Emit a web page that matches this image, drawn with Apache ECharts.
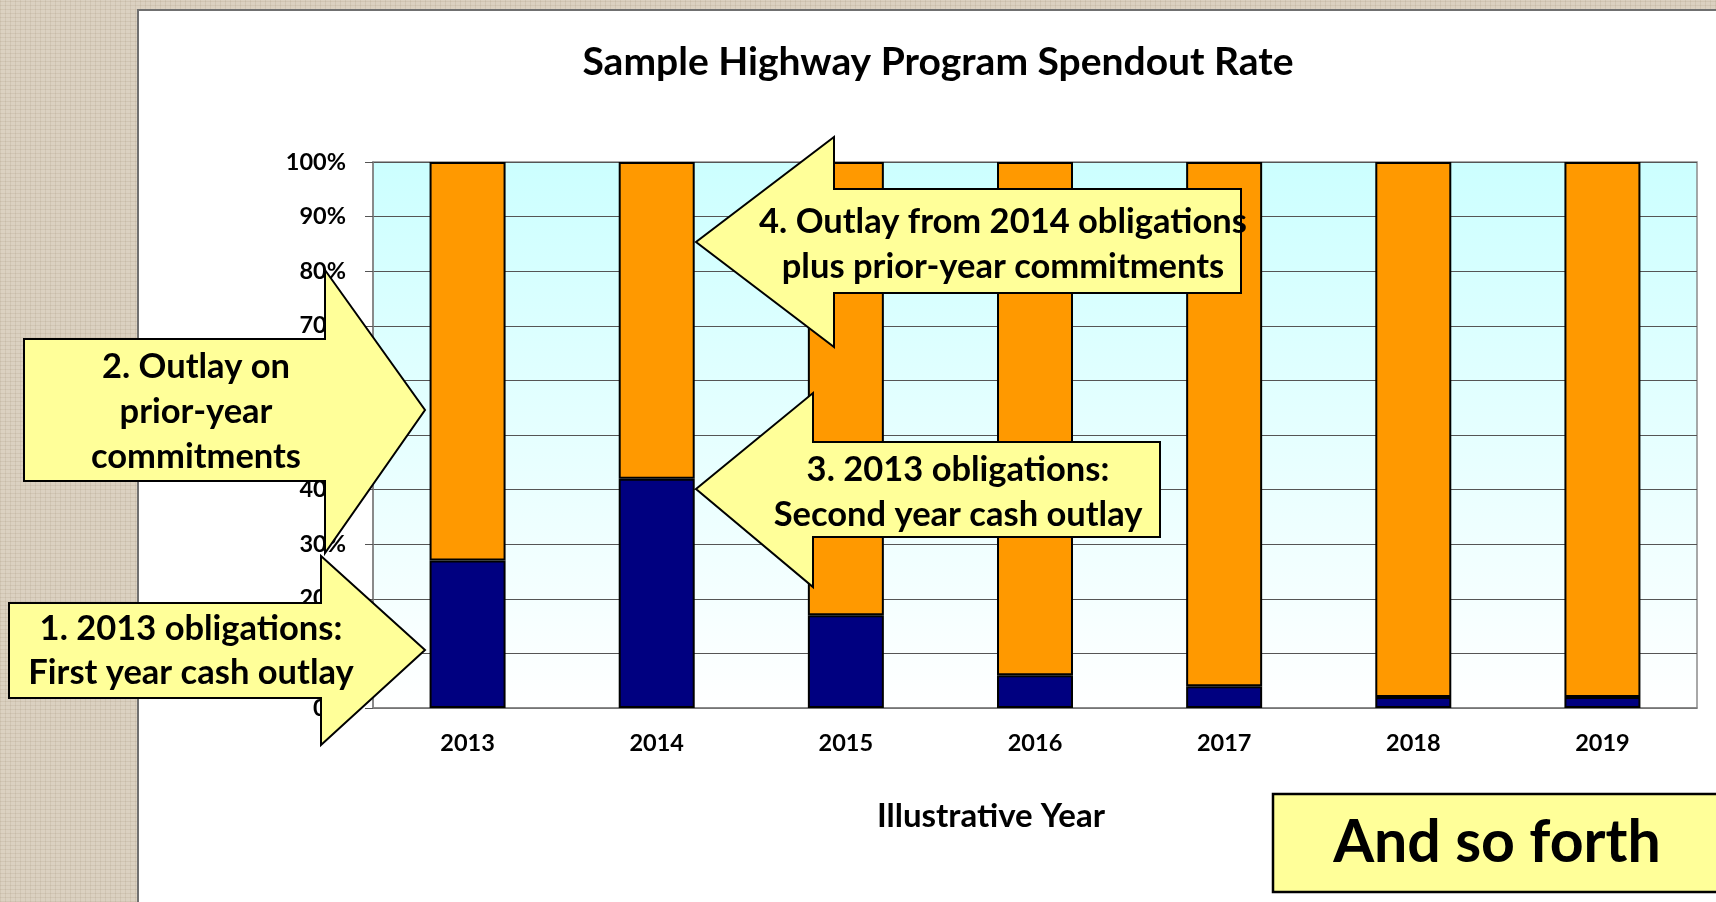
<!DOCTYPE html>
<html>
<head>
<meta charset="utf-8">
<title>Sample Highway Program Spendout Rate</title>
<script src="https://cdn.jsdelivr.net/npm/echarts@6.0.0/dist/echarts.min.js"></script>
<style>
  html, body {
    margin: 0;
    width: 1716px;
    height: 902px;
    overflow: hidden;
    background-color: #dbd1c1;
    background-image:
      repeating-linear-gradient(0deg, rgba(140, 120, 90, 0.13) 0 1px, transparent 1px 4px),
      repeating-linear-gradient(90deg, rgba(140, 120, 90, 0.13) 0 1px, transparent 1px 5px);
  }
  #panel {
    position: absolute;
    left: 137px;
    top: 9px;
    width: 1600px;
    height: 920px;
    background: #fff;
    border-left: 2px solid #707070;
    border-top: 2px solid #707070;
  }
  #chart {
    position: absolute;
    left: 0;
    top: 0;
    width: 1716px;
    height: 902px;
  }
</style>
</head>
<body>
<div id="panel"></div>
<div id="chart"></div>
<script>
// illustrative years
const years = ['2013', '2014', '2015', '2016', '2017', '2018', '2019']
// share of outlay from the year's own obligations (navy)
const currentYearOutlay = [27, 42, 17, 6, 4, 2, 2]
// share of outlay on prior-year commitments (orange)
const priorYearOutlay = [73, 58, 83, 94, 96, 98, 98]
// y axis ticks
const yTicks = [0, 10, 20, 30, 40, 50, 60, 70, 80, 90, 100]

const FONT = 'Lato, "Open Sans", sans-serif'
const YELLOW = '#ffff99'

// callout shapes drawn over the chart
const callout = (points) => ({
  type: 'polygon',
  z: 100,
  shape: { points },
  style: { fill: YELLOW, stroke: '#000', lineWidth: 2 }
})
const calloutText = (x, y, text, size, lineHeight) => ({
  type: 'text',
  z: 101,
  x,
  y,
  style: {
    text,
    fill: '#000',
    font: 'bold ' + size + 'px ' + FONT,
    align: 'center',
    verticalAlign: 'middle',
    lineHeight
  }
})

const chart = echarts.init(document.getElementById('chart'))
chart.setOption({
  backgroundColor: 'transparent',
  animation: false,
  textStyle: { fontFamily: FONT },
  title: {
    text: 'Sample Highway Program Spendout Rate',
    left: 933,
    top: 38,
    textAlign: 'center',
    textStyle: { fontSize: 39, fontWeight: 'bold', color: '#000' }
  },
  grid: {
    left: 373,
    right: 19,
    top: 162,
    bottom: 194,
    show: true,
    borderColor: '#8c8c8c',
    borderWidth: 1.5,
    backgroundColor: {
      type: 'linear', x: 0, y: 0, x2: 0, y2: 1,
      colorStops: [
        { offset: 0, color: '#ccffff' },
        { offset: 1, color: '#ffffff' }
      ]
    }
  },
  xAxis: {
    type: 'category',
    data: years,
    name: 'Illustrative Year',
    nameLocation: 'middle',
    nameGap: 92,
    nameTextStyle: { fontSize: 33, fontWeight: 'bold', color: '#000', padding: [0, 88, 0, 0] },
    axisLine: { lineStyle: { color: '#808080', width: 1.5 } },
    axisTick: { length: 9, lineStyle: { color: '#555' } },
    axisLabel: { margin: 23, fontSize: 23.5, fontWeight: 'bold', color: '#000' }
  },
  yAxis: {
    type: 'value',
    min: yTicks[0],
    max: yTicks[yTicks.length - 1],
    interval: 10,
    axisLine: { show: true, lineStyle: { color: '#808080', width: 1.5 } },
    axisTick: { show: true, length: 8, lineStyle: { color: '#555' } },
    axisLabel: { margin: 27, fontSize: 23.5, fontWeight: 'bold', color: '#000', formatter: '{value}%' },
    splitLine: { lineStyle: { color: '#555', width: 1 } }
  },
  series: [
    {
      name: 'Outlay from current-year obligations',
      type: 'bar',
      stack: 'total',
      barWidth: 76,
      data: currentYearOutlay,
      itemStyle: { color: '#000080', borderColor: '#000', borderWidth: 2 }
    },
    {
      name: 'Outlay on prior-year commitments',
      type: 'bar',
      stack: 'total',
      barWidth: 76,
      data: priorYearOutlay,
      itemStyle: { color: '#ff9900', borderColor: '#000', borderWidth: 2 }
    }
  ],
  graphic: [
    // 2. Outlay on prior-year commitments
    callout([[24, 339], [325, 339], [325, 270], [425, 410], [325, 553], [325, 481], [24, 481]]),
    calloutText(196, 412, '2. Outlay on\nprior-year\ncommitments', 34.5, 45),
    // 1. first year cash outlay
    callout([[9, 603], [321, 603], [321, 556], [425, 650], [321, 745], [321, 698], [9, 698]]),
    calloutText(191, 651, '1. 2013 obligations:\nFirst year cash outlay', 34.5, 44),
    // 4. outlay from 2014 obligations
    callout([[834, 137], [834, 189], [1241, 189], [1241, 293], [834, 293], [834, 347], [696, 242]]),
    calloutText(1003, 244, '4. Outlay from 2014 obligations\nplus prior-year commitments', 34.5, 45),
    // 3. second year cash outlay
    callout([[813, 393], [813, 442], [1160, 442], [1160, 537], [813, 537], [813, 587], [696, 489]]),
    calloutText(958, 492, '3. 2013 obligations:\nSecond year cash outlay', 34.5, 45),
    // and so forth
    {
      type: 'rect',
      z: 100,
      shape: { x: 1273, y: 794, width: 480, height: 98 },
      style: { fill: YELLOW, stroke: '#000', lineWidth: 2.5 }
    },
    calloutText(1497, 843, 'And so forth', 59, 64)
  ]
})
</script>
</body>
</html>
